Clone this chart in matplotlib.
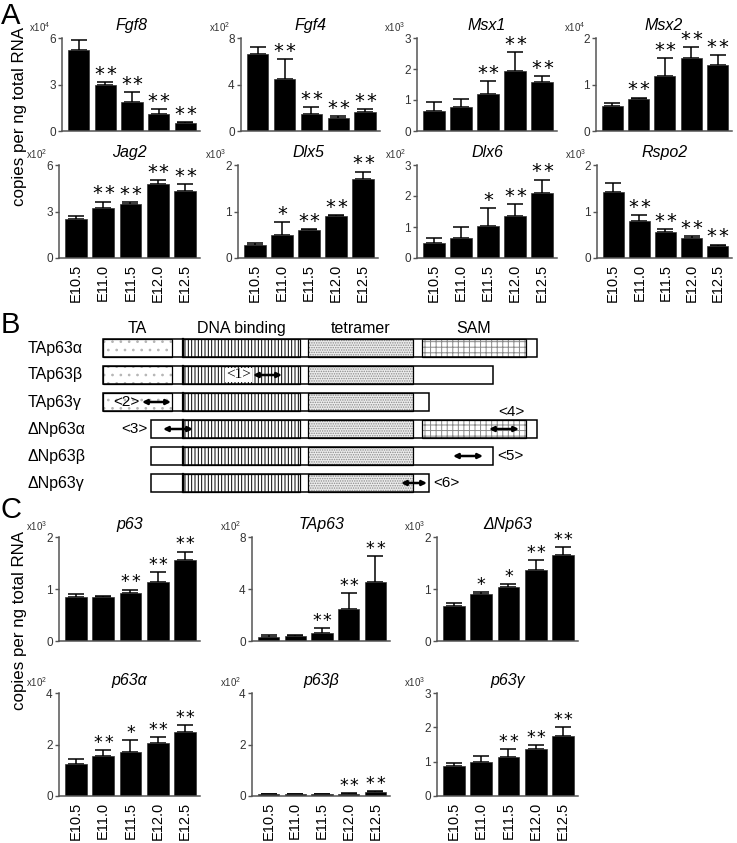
import numpy as np
import matplotlib
matplotlib.use('Agg')
import matplotlib.pyplot as plt
from matplotlib.patches import Rectangle

plt.rcParams['font.family'] = ['Liberation Sans', 'DejaVu Sans']
plt.rcParams['mathtext.fontset'] = 'custom'
plt.rcParams['mathtext.rm'] = 'Liberation Sans'
plt.rcParams['mathtext.it'] = 'Liberation Sans:italic'
plt.rcParams['hatch.linewidth'] = 0.7

# %% data
stages = ['E10.5', 'E11.0', 'E11.5', 'E12.0', 'E12.5']

fgf8 = [5.2, 2.95, 1.9, 1.1, 0.5]
fgf8_err = [0.7, 0.2, 0.6, 0.3, 0.1]
fgf8_sig = ['', '**', '**', '**', '**']

fgf4 = [6.6, 4.5, 1.5, 1.1, 1.6]
fgf4_err = [0.6, 1.7, 0.55, 0.2, 0.25]
fgf4_sig = ['', '**', '**', '**', '**']

msx1 = [0.65, 0.76, 1.19, 1.93, 1.58]
msx1_err = [0.3, 0.27, 0.41, 0.63, 0.19]
msx1_sig = ['', '', '**', '**', '**']

msx2 = [0.54, 0.68, 1.18, 1.56, 1.41]
msx2_err = [0.07, 0.04, 0.39, 0.25, 0.23]
msx2_sig = ['', '**', '**', '**', '**']

jag2 = [2.53, 3.25, 3.49, 4.75, 4.35]
jag2_err = [0.19, 0.39, 0.13, 0.28, 0.43]
jag2_sig = ['', '**', '**', '**', '**']

dlx5 = [0.28, 0.5, 0.6, 0.9, 1.7]
dlx5_err = [0.04, 0.28, 0.03, 0.03, 0.16]
dlx5_sig = ['', '*', '**', '**', '**']

dlx6 = [0.5, 0.63, 1.04, 1.37, 2.1]
dlx6_err = [0.15, 0.36, 0.56, 0.38, 0.43]
dlx6_sig = ['', '', '*', '**', '**']

rspo2 = [1.41, 0.8, 0.55, 0.43, 0.26]
rspo2_err = [0.21, 0.12, 0.07, 0.05, 0.03]
rspo2_sig = ['', '**', '**', '**', '**']

p63 = [0.85, 0.84, 0.92, 1.14, 1.55]
p63_err = [0.05, 0.03, 0.07, 0.18, 0.17]
p63_sig = ['', '', '**', '**', '**']

tap63 = [0.34, 0.39, 0.65, 2.45, 4.56]
tap63_err = [0.12, 0.1, 0.33, 1.21, 2.0]
tap63_sig = ['', '', '**', '**', '**']

dnp63 = [0.67, 0.91, 1.03, 1.37, 1.65]
dnp63_err = [0.07, 0.04, 0.07, 0.18, 0.16]
dnp63_sig = ['', '*', '*', '**', '**']

p63a = [1.24, 1.54, 1.72, 2.07, 2.47]
p63a_err = [0.2, 0.25, 0.47, 0.22, 0.29]
p63a_sig = ['', '**', '*', '**', '**']

p63b = [0.06, 0.06, 0.06, 0.09, 0.15]
p63b_err = [0.01, 0.01, 0.01, 0.02, 0.03]
p63b_sig = ['', '', '', '**', '**']

p63g = [0.86, 0.99, 1.14, 1.38, 1.76]
p63g_err = [0.1, 0.18, 0.24, 0.1, 0.26]
p63g_sig = ['', '', '**', '**', '**']

# panel B: domain boundaries and isoforms (schematic units)
domain_names = ['TA', 'DNA binding', 'tetramer', 'SAM']
domain_start = [103, 183, 308, 422]
domain_end = [172, 300, 413, 526]
isoform_names = ['TAp63α', 'TAp63β', 'TAp63γ', 'ΔNp63α', 'ΔNp63β', 'ΔNp63γ']
isoform_start = [103, 103, 103, 151, 151, 151]
isoform_end = [537, 493, 429, 537, 493, 429]
probe_labels = ['<1>', '<2>', '<3>', '<4>', '<5>', '<6>']
probe_row = [1, 2, 3, 3, 4, 5]
probe_from = [253, 142, 163, 489, 453, 401]
probe_to = [282, 171, 193, 519, 483, 427]

# %% layout
W, H = 737, 843
fig = plt.figure(figsize=(W / 100, H / 100), dpi=100)


def px_axes(x0, y0, x1, y1):
    return fig.add_axes([x0 / W, 1 - y1 / H, (x1 - x0) / W, (y1 - y0) / H])


def bar_panel(ax, vals, errs, sigs, title, ymax, expo, xlabels, star_size=14):
    x = np.arange(len(vals))
    ax.bar(x, vals, width=0.8, color='black', edgecolor='#333333', linewidth=0.5, zorder=2)
    ax.errorbar(x, vals, yerr=[np.zeros(len(errs)), errs], fmt='none', ecolor='black',
                elinewidth=1.1, capsize=5.5, capthick=1.1, zorder=1)
    for xi, v, e, s in zip(x, vals, errs, sigs):
        # stars drawn one by one so that they get the gap of the original
        n = len(s)
        for j in range(n):
            dx = (j - (n - 1) / 2) * star_size * 0.6
            ax.annotate('*', (xi, v + e), xytext=(dx, 1.5), textcoords='offset points',
                        ha='center', va='baseline', fontsize=star_size, family='DejaVu Sans')
    ax.set_xlim(-0.62, 4.55)
    ax.set_ylim(0, ymax)
    if ymax == 3:
        ticks = [0, 1, 2, 3]
    else:
        ticks = [0, ymax / 2, ymax]
    ax.set_yticks(ticks)
    ax.set_yticklabels(['%g' % t for t in ticks])
    for sp in ['top', 'right']:
        ax.spines[sp].set_visible(False)
    for sp in ['left', 'bottom']:
        ax.spines[sp].set_color('#555555')
        ax.spines[sp].set_linewidth(1.1)
    ax.tick_params(axis='y', length=3, width=1, color='#555555', labelsize=8.5,
                   labelcolor='#333333', pad=1.5)
    ax.set_xticks(x)
    if xlabels:
        ax.set_xticklabels(stages, rotation=90, fontsize=10.5)
        ax.tick_params(axis='x', length=0, pad=4)
    else:
        ax.set_xticklabels([])
        ax.tick_params(axis='x', length=0)
    ax.set_title(title, fontsize=11.5, style='italic', pad=6)
    ax.text(-0.08, 1.04, r'x10$^{%d}$' % expo, transform=ax.transAxes, ha='right',
            va='bottom', fontsize=7, color='#333333')


# panel A
rowA1 = (38, 131)
rowA2 = (165, 258)
colsA = [(62, 200), (241, 380), (417, 557), (596, 732)]
colsA2 = [(59, 200), (238, 378), (417, 557), (597, 732)]

bar_panel(px_axes(colsA[0][0], rowA1[0], colsA[0][1], rowA1[1]), fgf8, fgf8_err, fgf8_sig, 'Fgf8', 6, 4, False)
bar_panel(px_axes(colsA[1][0], rowA1[0], colsA[1][1], rowA1[1]), fgf4, fgf4_err, fgf4_sig, 'Fgf4', 8, 2, False)
bar_panel(px_axes(colsA[2][0], rowA1[0], colsA[2][1], rowA1[1]), msx1, msx1_err, msx1_sig, 'Msx1', 3, 3, False)
bar_panel(px_axes(colsA[3][0], rowA1[0], colsA[3][1], rowA1[1]), msx2, msx2_err, msx2_sig, 'Msx2', 2, 4, False)
bar_panel(px_axes(colsA2[0][0], rowA2[0], colsA2[0][1], rowA2[1]), jag2, jag2_err, jag2_sig, 'Jag2', 6, 2, True)
bar_panel(px_axes(colsA2[1][0], rowA2[0], colsA2[1][1], rowA2[1]), dlx5, dlx5_err, dlx5_sig, 'Dlx5', 2, 3, True)
bar_panel(px_axes(colsA2[2][0], rowA2[0], colsA2[2][1], rowA2[1]), dlx6, dlx6_err, dlx6_sig, 'Dlx6', 3, 2, True)
bar_panel(px_axes(colsA2[3][0], rowA2[0], colsA2[3][1], rowA2[1]), rspo2, rspo2_err, rspo2_sig, 'Rspo2', 2, 3, True)

# panel C
rowC1 = (537, 641)
rowC2 = (693, 796)
colsC = [(59, 200), (252, 390), (437, 578)]
bar_panel(px_axes(colsC[0][0], rowC1[0], colsC[0][1], rowC1[1]), p63, p63_err, p63_sig, 'p63', 2, 3, False, 12.5)
bar_panel(px_axes(colsC[1][0], rowC1[0], colsC[1][1], rowC1[1]), tap63, tap63_err, tap63_sig, 'TAp63', 8, 2, False, 12.5)
bar_panel(px_axes(colsC[2][0], rowC1[0], colsC[2][1], rowC1[1]), dnp63, dnp63_err, dnp63_sig, 'ΔNp63', 2, 3, False, 12.5)
bar_panel(px_axes(colsC[0][0], rowC2[0], colsC[0][1], rowC2[1]), p63a, p63a_err, p63a_sig, 'p63α', 4, 2, True, 12.5)
bar_panel(px_axes(colsC[1][0], rowC2[0], colsC[1][1], rowC2[1]), p63b, p63b_err, p63b_sig, 'p63β', 4, 2, True, 12.5)
bar_panel(px_axes(colsC[2][0], rowC2[0], colsC[2][1], rowC2[1]), p63g, p63g_err, p63g_sig, 'p63γ', 3, 3, True, 12.5)

# panel B schematic
axB = px_axes(0, 310, W, 500)
axB.set_xlim(0, W)
axB.set_ylim(500, 310)
axB.axis('off')

row_y0 = 348
row_step = 27
bar_h = 18
hatches = ['..', '|||||', '.......', '+++']
hatch_cols = ['#b5b5b5', 'black', '#8a8a8a', '#8a8a8a']
face_cols = ['white', 'white', '#ececec', 'white']

for i, name in enumerate(domain_names):
    axB.text((domain_start[i] + domain_end[i]) / 2, row_y0 - bar_h / 2 - 3, name,
             ha='center', va='bottom', fontsize=11.5)

for r, name in enumerate(isoform_names):
    yc = row_y0 + r * row_step
    yt = yc - bar_h / 2
    s, e = isoform_start[r], isoform_end[r]
    axB.text(28, yc, name, ha='left', va='center', fontsize=11.5)
    for i in range(len(domain_names)):
        d0, d1 = domain_start[i], domain_end[i]
        if d0 < s or d1 > e:
            continue
        axB.add_patch(Rectangle((d0, yt), d1 - d0, bar_h, facecolor=face_cols[i],
                                edgecolor=hatch_cols[i], hatch=hatches[i], linewidth=0))
        axB.add_patch(Rectangle((d0, yt), d1 - d0, bar_h, facecolor='none',
                                edgecolor='black', linewidth=0.9))
    axB.plot([domain_start[1]] * 2, [yt, yt + bar_h], color='black', lw=1.6)
    axB.add_patch(Rectangle((s, yt), e - s, bar_h, facecolor='none', edgecolor='black',
                            linewidth=1.1))

for k, lab in enumerate(probe_labels):
    yc = row_y0 + probe_row[k] * row_step
    axB.annotate('', xy=(probe_to[k], yc), xytext=(probe_from[k], yc),
                 arrowprops=dict(arrowstyle='<|-|>', lw=1.8, color='black',
                                 mutation_scale=7, shrinkA=0, shrinkB=0))
    if lab == '<1>':
        axB.text(probe_from[k] - 2, yc, lab, ha='right', va='center', fontsize=11,
                 family='Liberation Serif', bbox=dict(facecolor='white', edgecolor='none', pad=0.5))
    elif lab == '<4>':
        axB.text((probe_from[k] + probe_to[k]) / 2 + 7, yc - bar_h / 2 - 1, lab, ha='center',
                 va='bottom', fontsize=11)
    elif lab in ('<5>', '<6>'):
        axB.text(isoform_end[probe_row[k]] + 4, yc, lab, ha='left', va='center', fontsize=11)
    elif lab == '<3>':
        axB.text(isoform_start[probe_row[k]] - 3, yc, lab, ha='right', va='center', fontsize=11)
    else:
        axB.text(probe_from[k] - 2, yc, lab, ha='right', va='center', fontsize=11)

# panel letters and shared y labels
fig.text(1 / W, 1 - 2 / H, 'A', fontsize=21, va='top', ha='left')
fig.text(1 / W, 1 - 311 / H, 'B', fontsize=21, va='top', ha='left')
fig.text(1 / W, 1 - 496 / H, 'C', fontsize=21, va='top', ha='left')
fig.text(20 / W, 1 - 117 / H, 'copies per ng total RNA', rotation=90, fontsize=12.2,
         ha='center', va='center')
fig.text(20 / W, 1 - 620 / H, 'copies per ng total RNA', rotation=90, fontsize=12.2,
         ha='center', va='center')

fig.savefig('out.png', dpi=100)
